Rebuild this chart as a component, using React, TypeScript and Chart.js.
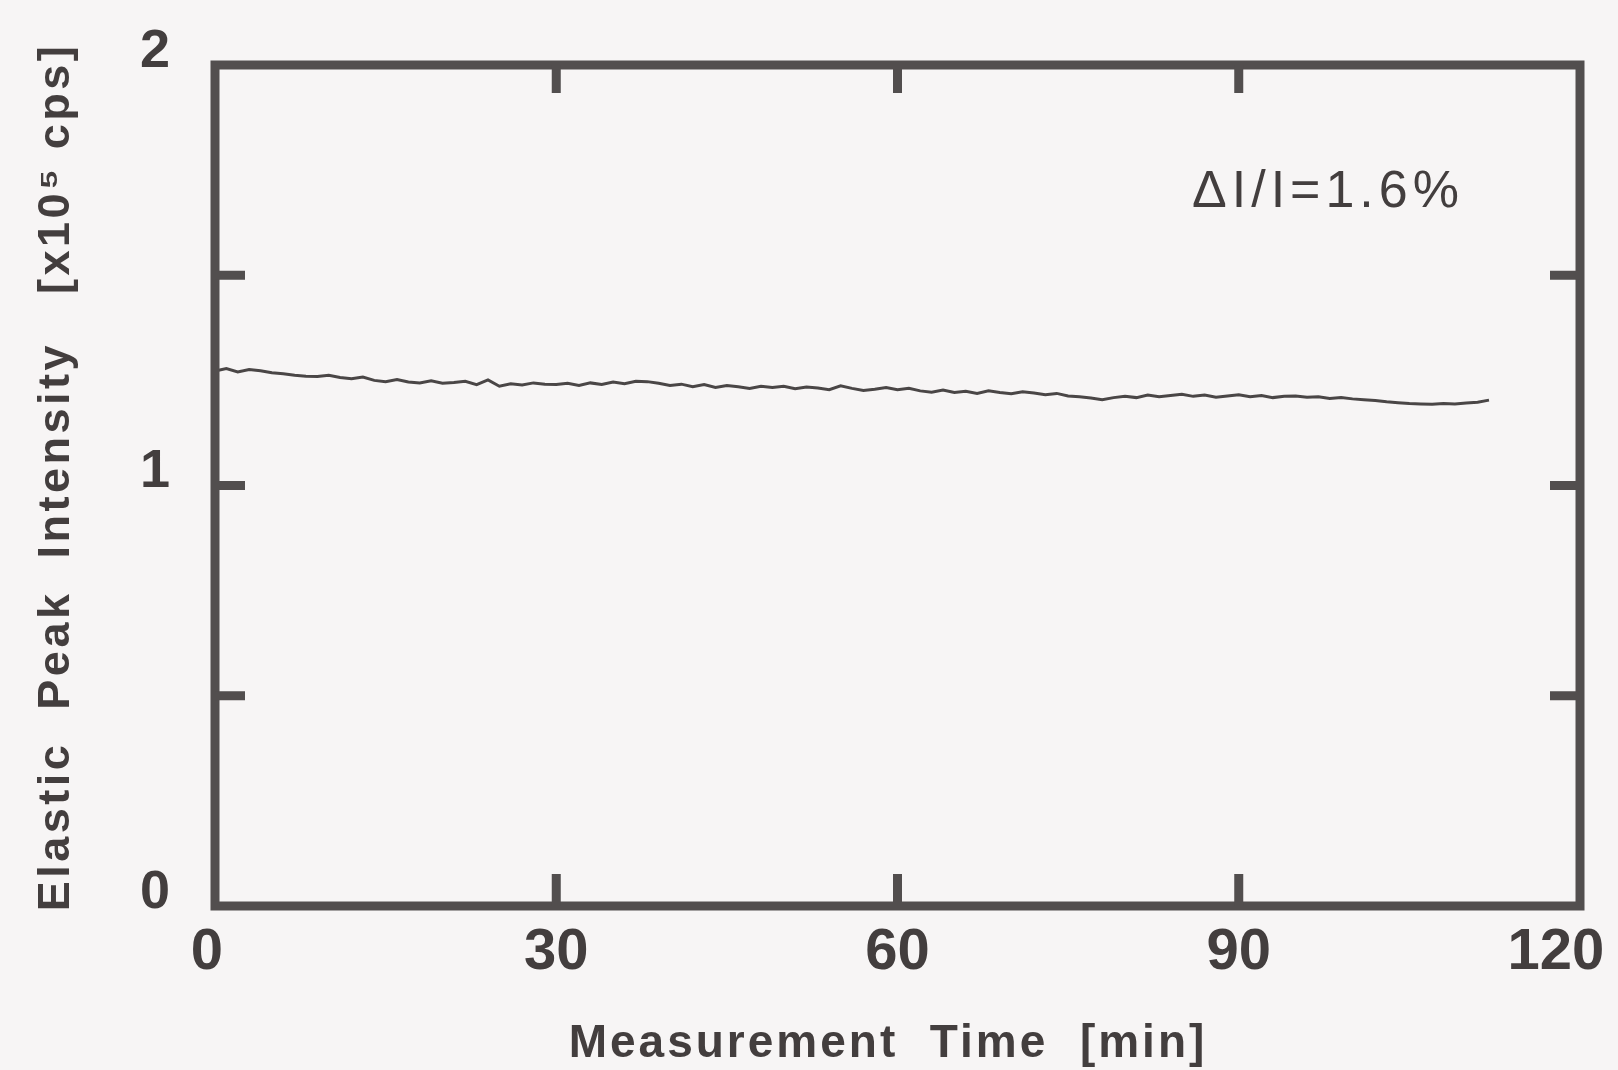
import React, { useEffect, useRef } from "react";
import { Chart, registerables } from "chart.js";

Chart.register(...registerables);

// Elastic peak intensity [x10^5 cps], sampled once per minute from t = 0 min
const intensity: number[] = [
  1.272, 1.278, 1.270, 1.276, 1.273, 1.268, 1.266, 1.262, 1.260, 1.259,
  1.262, 1.257, 1.254, 1.258, 1.250, 1.247, 1.252, 1.246, 1.244, 1.249,
  1.243, 1.245, 1.248, 1.240, 1.251, 1.236, 1.242, 1.239, 1.244, 1.241,
  1.240, 1.243, 1.238, 1.244, 1.240, 1.246, 1.242, 1.248, 1.247, 1.243,
  1.238, 1.241, 1.235, 1.240, 1.233, 1.238, 1.235, 1.231, 1.236, 1.233,
  1.236, 1.230, 1.234, 1.232, 1.228, 1.237, 1.231, 1.226, 1.229, 1.233,
  1.228, 1.231, 1.225, 1.222, 1.227, 1.221, 1.224, 1.219, 1.225, 1.221,
  1.218, 1.223, 1.220, 1.216, 1.219, 1.213, 1.211, 1.208, 1.204, 1.209,
  1.212, 1.209, 1.215, 1.211, 1.214, 1.217, 1.212, 1.215, 1.210, 1.213,
  1.216, 1.211, 1.214, 1.209, 1.212, 1.213, 1.210, 1.211, 1.207, 1.209,
  1.206, 1.204, 1.202, 1.199, 1.197, 1.195, 1.194, 1.193, 1.195, 1.194,
  1.196, 1.198, 1.203,
];
const timeStepMin = 1;

const xTickLabels = [0, 30, 60, 90, 120];
const yTickLabels = [0, 1, 2];
const xInnerTicks = [30, 60, 90];
const yInnerTicks = [0.5, 1, 1.5];

const xTitle = "Measurement  Time  [min]";
const yTitle = "Elastic  Peak  Intensity   [x10\u2075 cps]";
const annotation = "\u0394I/I=1.6%";

const INK = "#433e3e";
const BG = "#f7f5f5";
const FONT = "'Liberation Sans', Arial, sans-serif";

export default function App() {
  const ref = useRef<HTMLCanvasElement | null>(null);

  useEffect(() => {
    document.body.style.margin = "0";
    document.body.style.background = BG;
    const canvas = ref.current;
    if (!canvas) return;

    const points = intensity.map((v, i) => ({ x: i * timeStepMin, y: v }));

    const framePlugin = {
      id: "frame",
      beforeDraw(chart: any) {
        const { ctx } = chart;
        ctx.save();
        ctx.fillStyle = BG;
        ctx.fillRect(0, 0, chart.width, chart.height);
        ctx.restore();
      },
      afterDraw(chart: any) {
        const { ctx, chartArea } = chart;
        const { left, right, top, bottom } = chartArea;
        const xs = chart.scales.x;
        const ys = chart.scales.y;
        ctx.save();
        ctx.strokeStyle = "#524e4e";
        ctx.lineWidth = 9;
        ctx.lineCap = "butt";
        ctx.lineJoin = "miter";
        ctx.strokeRect(left, top, right - left, bottom - top);
        ctx.beginPath();
        for (const v of yInnerTicks) {
          const y = ys.getPixelForValue(v);
          ctx.moveTo(left, y);
          ctx.lineTo(left + 30, y);
          ctx.moveTo(right, y);
          ctx.lineTo(right - 30, y);
        }
        for (const v of xInnerTicks) {
          const x = xs.getPixelForValue(v);
          ctx.moveTo(x, bottom);
          ctx.lineTo(x, bottom - 32);
          ctx.moveTo(x, top);
          ctx.lineTo(x, top + 28);
        }
        ctx.stroke();

        ctx.fillStyle = INK;
        ctx.textAlign = "center";
        ctx.textBaseline = "middle";
        try { (ctx as any).letterSpacing = "3px"; } catch (e) {}
        ctx.font = `bold 46px ${FONT}`;
        ctx.fillText(xTitle, 888, 1044);

        ctx.save();
        ctx.translate(57, 477);
        ctx.rotate(-Math.PI / 2);
        try { (ctx as any).letterSpacing = "3.5px"; } catch (e) {}
        ctx.font = `bold 45px ${FONT}`;
        ctx.fillText(yTitle, 0, 0);
        ctx.restore();

        ctx.textAlign = "left";
        try { (ctx as any).letterSpacing = "5px"; } catch (e) {}
        ctx.font = `52px ${FONT}`;
        ctx.fillText(annotation, 1192, 193);
        ctx.restore();
      },
    };

    const chart = new Chart(canvas, {
      type: "line",
      data: {
        datasets: [
          {
            data: points,
            borderColor: "#4a4646",
            borderWidth: 3,
            pointRadius: 0,
            tension: 0,
            fill: false,
          },
        ],
      },
      options: {
        animation: false,
        responsive: false,
        events: [],
        layout: { padding: { top: 65, right: 38, left: 0, bottom: 0 } },
        plugins: { legend: { display: false }, tooltip: { enabled: false } },
        scales: {
          x: {
            type: "linear",
            min: 0,
            max: 120,
            afterBuildTicks: (s: any) => {
              s.ticks = xTickLabels.map((v) => ({ value: v }));
            },
            afterFit: (s: any) => {
              s.height = 164;
              s.paddingLeft = 0;
              s.paddingRight = 0;
            },
            grid: { display: false, drawTicks: false },
            border: { display: false },
            ticks: {
              color: INK,
              padding: 12,
              maxRotation: 0,
              autoSkip: false,
              font: { family: FONT, size: 58, weight: "bold" },
              callback: (v: any) => (v === 0 ? "0 " : v === 120 ? "120   " : String(v)),
            },
          },
          y: {
            type: "linear",
            min: 0,
            max: 2,
            afterBuildTicks: (s: any) => {
              s.ticks = yTickLabels.map((v) => ({ value: v }));
            },
            afterFit: (s: any) => {
              s.width = 215;
              s.paddingTop = 0;
              s.paddingBottom = 0;
            },
            grid: { display: false, drawTicks: false },
            border: { display: false },
            ticks: {
              color: INK,
              padding: 45,
              labelOffset: -13,
              autoSkip: false,
              font: { family: FONT, size: 54, weight: "bold" },
            },
          },
        },
      },
      plugins: [framePlugin],
    } as any);

    return () => chart.destroy();
  }, []);

  return (
    <canvas
      ref={ref}
      width={1618}
      height={1070}
      style={{ display: "block", position: "absolute", left: 0, top: 0 }}
    />
  );
}
